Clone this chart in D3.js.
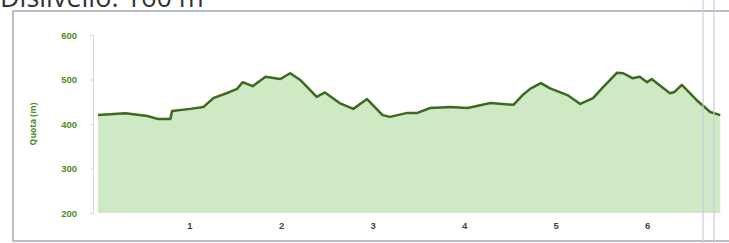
<!DOCTYPE html>
<html>
<head>
<meta charset="utf-8">
<script src="https://cdn.jsdelivr.net/npm/d3@7"></script>
<style>
  body { margin: 0; background: #fff; }
  svg { display: block; font-family: "Open Sans", sans-serif; }
</style>
</head>
<body>
<svg id="chart" width="729" height="243"></svg>
<script>
// Distance (km) and elevation (m)
const distanceKm = [0, 0.30, 0.54, 0.66, 0.79, 0.81, 1.01, 1.15, 1.26, 1.44, 1.52, 1.58, 1.69, 1.83, 1.99,
  2.10, 2.21, 2.39, 2.48, 2.64, 2.79, 2.94, 3.11, 3.19, 3.38, 3.49, 3.63, 3.85, 4.04, 4.29, 4.54,
  4.64, 4.73, 4.84, 4.94, 5.13, 5.27, 5.41, 5.52, 5.67, 5.74, 5.84, 5.92, 6.00, 6.05, 6.25, 6.30,
  6.38, 6.54, 6.69, 6.80];
const elevationM = [420, 424, 418, 411, 411, 429, 434, 438, 458, 472, 479, 494, 485, 506, 501,
  514, 499, 461, 471, 447, 434, 456, 420, 416, 425, 425, 436, 438, 436, 447, 443,
  465, 480, 492, 480, 465, 445, 458, 483, 515, 514, 503, 506, 494, 501, 469, 472,
  488, 454, 427, 420];
const yTicks = [200, 300, 400, 500, 600];
const xTicks = [1, 2, 3, 4, 5, 6];
const titleText = "Dislivello: 160 m";
const yTitle = "Quota (m)";

const svg = d3.select("#chart");
const data = distanceKm.map((d, i) => ({ km: d, ele: elevationM[i] }));

// Outer frame
svg.append("rect")
  .attr("x", 13).attr("y", 11)
  .attr("width", 730).attr("height", 230)
  .attr("fill", "none")
  .attr("stroke", "#b9bdc9")
  .attr("stroke-width", 2);

// Title, partly cut off at the top like in the source picture
svg.append("text")
  .attr("x", 0).attr("y", 7)
  .attr("font-size", 27)
  .attr("fill", "#333")
  .text(titleText);

const x = d3.scaleLinear().domain([0, 6.83]).range([98, 723]);
const y = d3.scaleLinear().domain([200, 600]).range([213, 35]);

// Area + line
const area = d3.area()
  .x(d => x(d.km))
  .y0(y(200))
  .y1(d => y(d.ele));

const line = d3.line()
  .x(d => x(d.km))
  .y(d => y(d.ele));

svg.append("path")
  .datum(data)
  .attr("d", area)
  .attr("fill", "#cfe9c4");

svg.append("path")
  .datum(data)
  .attr("d", line)
  .attr("fill", "none")
  .attr("stroke", "#3d6920")
  .attr("stroke-width", 2.5)
  .attr("stroke-linejoin", "round");

// Y axis
const yAxis = svg.append("g")
  .attr("transform", "translate(93,0)")
  .call(d3.axisLeft(y).tickValues(yTicks).tickSize(3).tickPadding(13));
yAxis.select(".domain").attr("stroke", "#d6d8dc");
yAxis.selectAll(".tick line").attr("stroke", "#d6d8dc");
yAxis.selectAll("text")
  .attr("fill", "#4f8a24")
  .attr("font-size", 9.5)
  .attr("font-weight", "bold");

svg.append("text")
  .attr("transform", "translate(36,124) rotate(-90)")
  .attr("text-anchor", "middle")
  .attr("font-size", 8.5)
  .attr("font-weight", "bold")
  .attr("fill", "#4f8a24")
  .text(yTitle);

// X axis (labels only)
const xAxis = svg.append("g")
  .attr("transform", "translate(0,213)")
  .call(d3.axisBottom(x).tickValues(xTicks).tickSize(0).tickPadding(9).tickFormat(d3.format("d")));
xAxis.select(".domain").remove();
xAxis.selectAll("text")
  .attr("fill", "#444")
  .attr("font-size", 9.5)
  .attr("font-weight", "bold");

// Pale vertical lines at the right edge
[703, 714].forEach(v => {
  svg.append("line")
    .attr("x1", v).attr("x2", v)
    .attr("y1", 0).attr("y2", 243)
    .attr("stroke", "#c9cde0")
    .attr("stroke-width", 1.5)
    .attr("opacity", 0.8);
});
</script>
</body>
</html>
